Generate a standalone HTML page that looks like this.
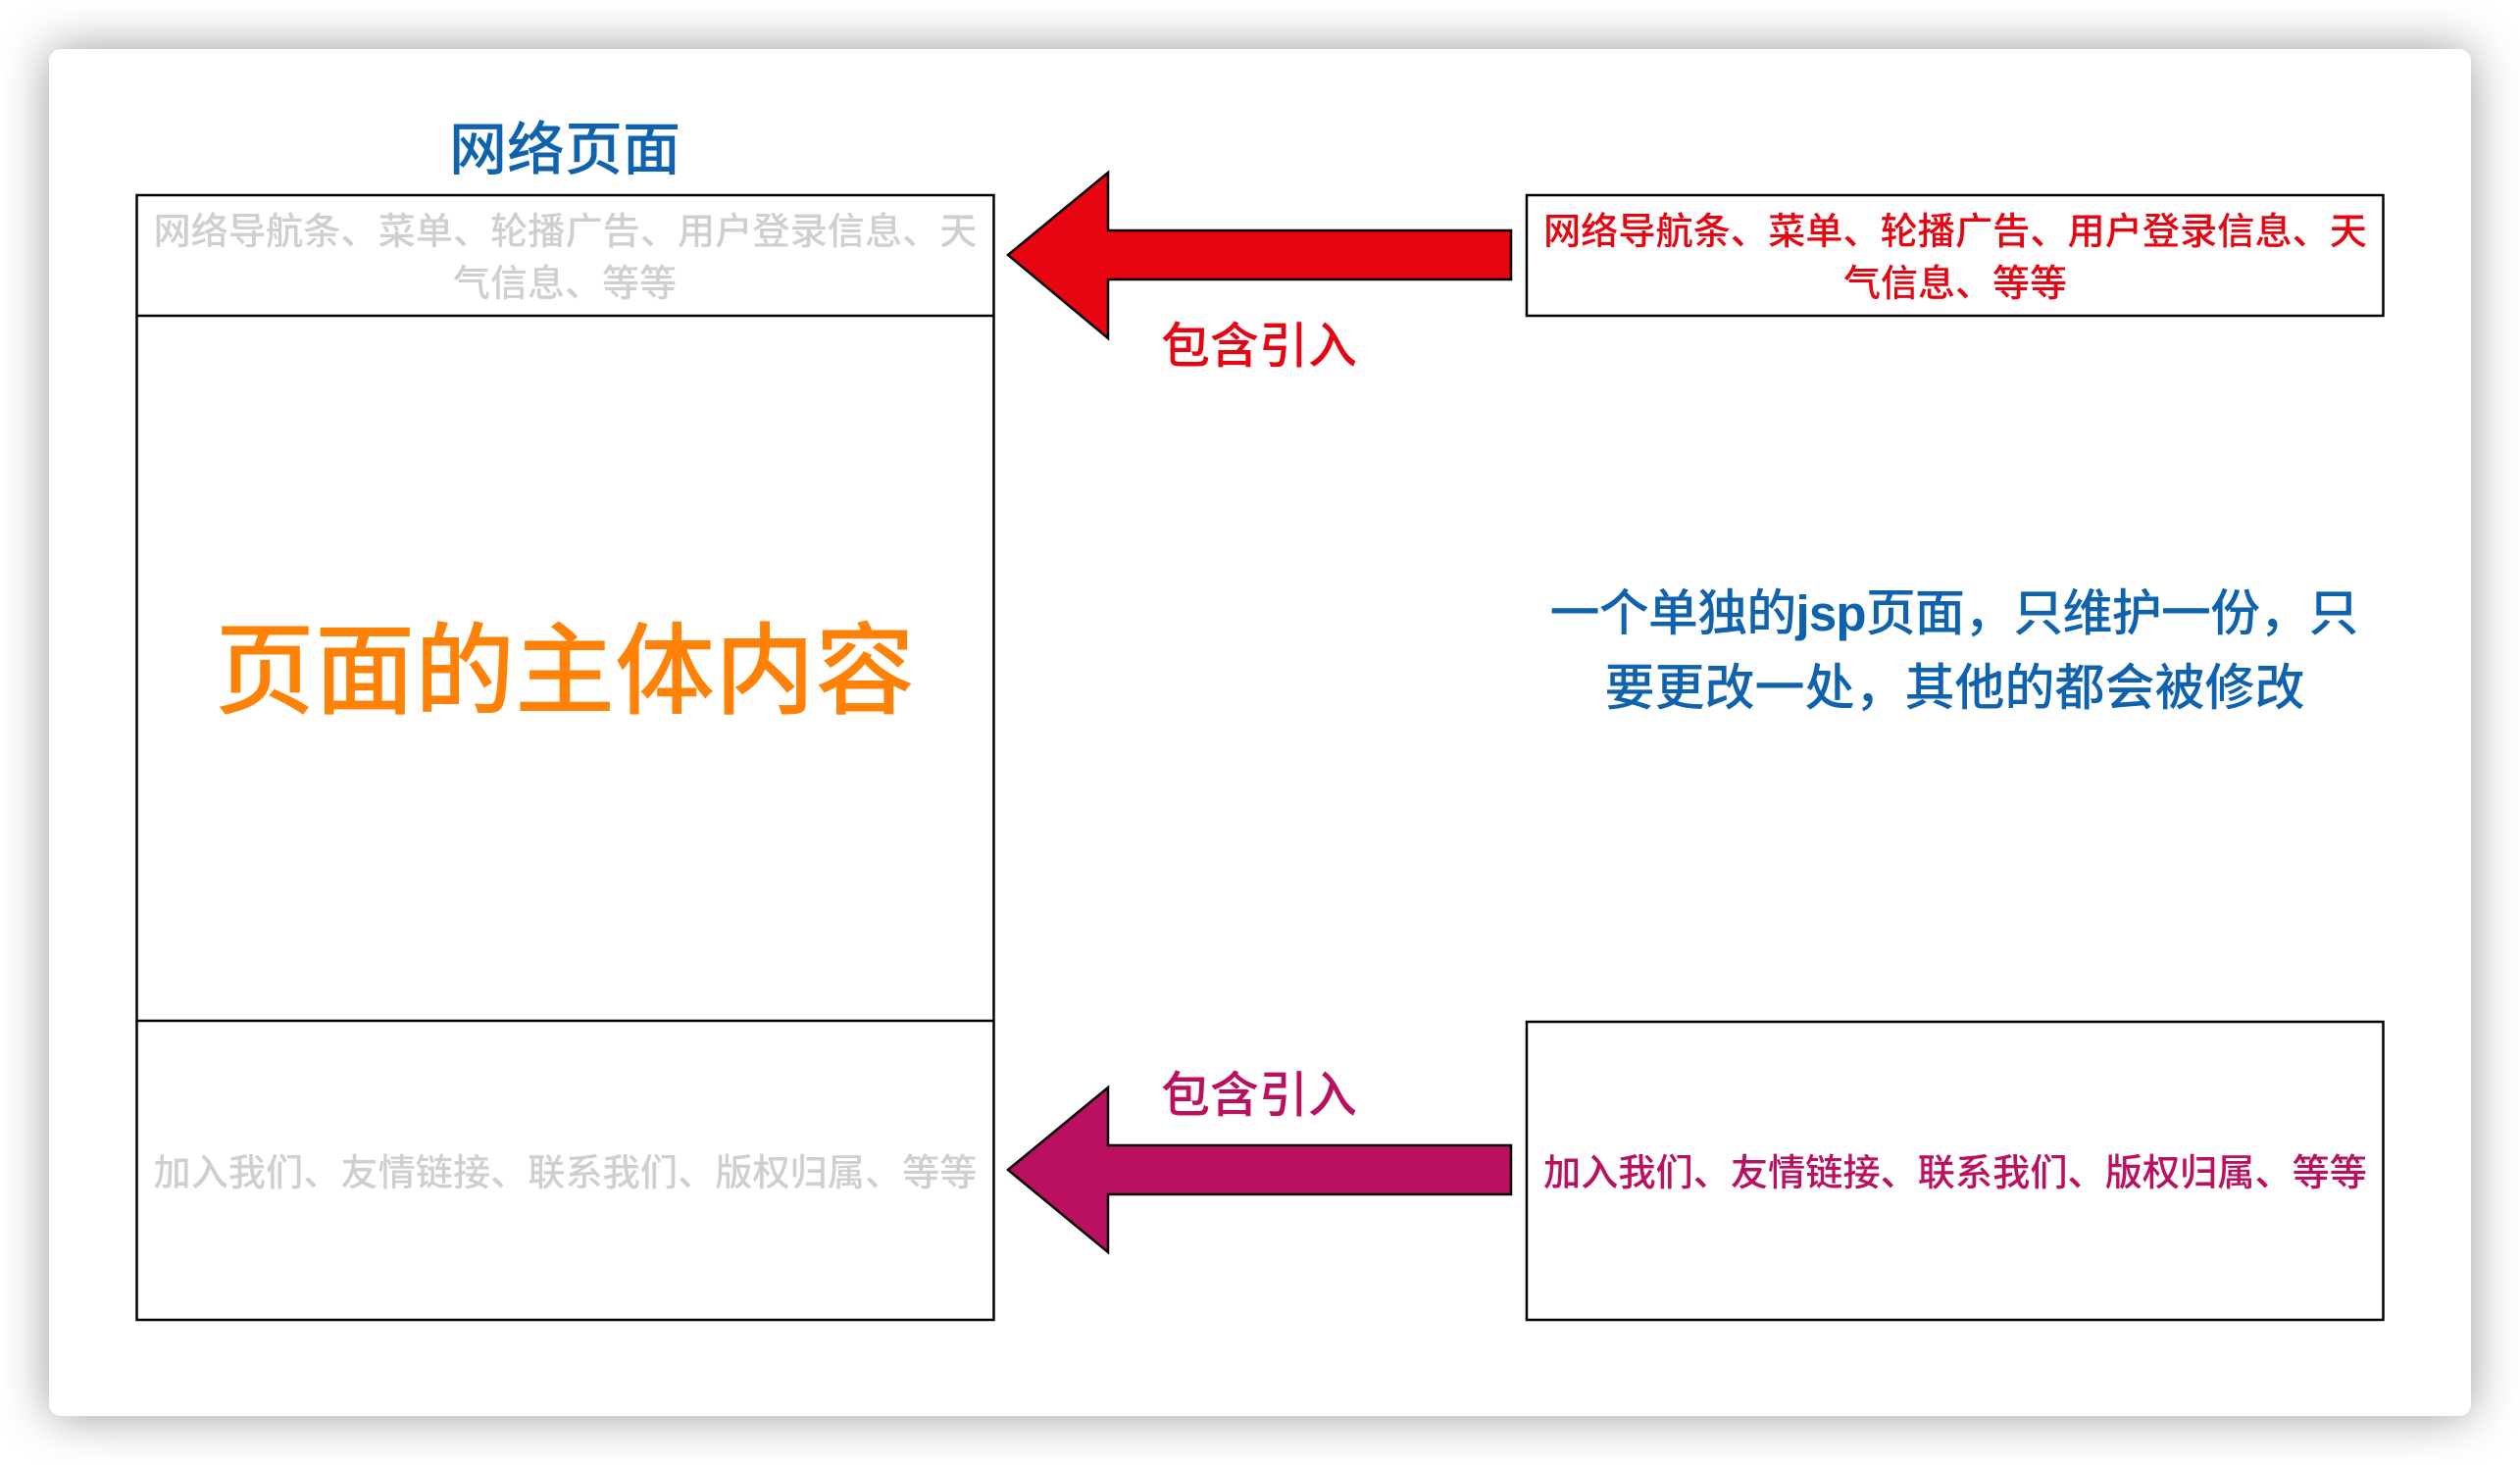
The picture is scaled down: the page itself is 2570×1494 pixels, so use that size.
<!DOCTYPE html>
<html lang="zh">
<head>
<meta charset="utf-8">
<style>
html,body{margin:0;padding:0;background:#fff;width:2570px;height:1494px;overflow:hidden}
#card{position:absolute;left:50px;top:50px;width:2470px;height:1394px;background:#fff;border-radius:12px;box-shadow:0 0 50px rgba(0,0,0,.4)}
svg{position:absolute;left:0;top:0}
text{font-family:"Liberation Sans","Noto Sans CJK SC",sans-serif;text-anchor:middle;font-weight:500}
</style>
</head>
<body>
<div id="card"></div>
<svg width="2570" height="1494" viewBox="0 0 2570 1494">
<g fill="#fff" stroke="#000" stroke-width="2.5">
<rect x="139.5" y="199" width="874" height="1147"/>
<line x1="139" y1="322" x2="1014" y2="322"/>
<line x1="139" y1="1041" x2="1014" y2="1041"/>
<rect x="1557" y="199" width="873.5" height="123"/>
<rect x="1557" y="1042" width="873.5" height="304"/>
</g>
<g stroke="#000" stroke-width="2.5" stroke-linejoin="miter">
<polygon points="1028,260 1130,176 1130,235 1541,235 1541,285 1130,285 1130,345" fill="#E60510"/>
<polygon points="1028,1193 1130,1109 1130,1168 1541,1168 1541,1218 1130,1218 1130,1277" fill="#BB1060"/>
</g>
<text x="576" y="173" font-size="59" fill="#0F62AE">网络页面</text>
<g font-size="38" fill="#CFCFCF">
<text x="576.5" y="249" textLength="840" lengthAdjust="spacingAndGlyphs">网络导航条、菜单、轮播广告、用户登录信息、天</text>
<text x="576" y="302">气信息、等等</text>
<text x="576.5" y="1209" textLength="840" lengthAdjust="spacingAndGlyphs">加入我们、友情链接、联系我们、版权归属、等等</text>
</g>
<g font-size="38" fill="#E60510">
<text x="1994" y="249" textLength="840" lengthAdjust="spacingAndGlyphs">网络导航条、菜单、轮播广告、用户登录信息、天</text>
<text x="1994" y="302">气信息、等等</text>
</g>
<text x="1994" y="1209" font-size="38" fill="#BB1060" textLength="840" lengthAdjust="spacingAndGlyphs">加入我们、友情链接、联系我们、版权归属、等等</text>
<text x="1284" y="370" font-size="50" fill="#E60510">包含引入</text>
<text x="1284" y="1134" font-size="50" fill="#BB1060">包含引入</text>
<text x="576" y="720" font-size="102" fill="#FF8207">页面的主体内容</text>
<g font-size="51" fill="#0F62AE">
<text x="1993" y="643" textLength="825">一个单独的<tspan font-weight="700">jsp</tspan>页面，只维护一份，只</text>
<text x="1993.5" y="719">要更改一处，其他的都会被修改</text>
</g>
</svg>
</body>
</html>
